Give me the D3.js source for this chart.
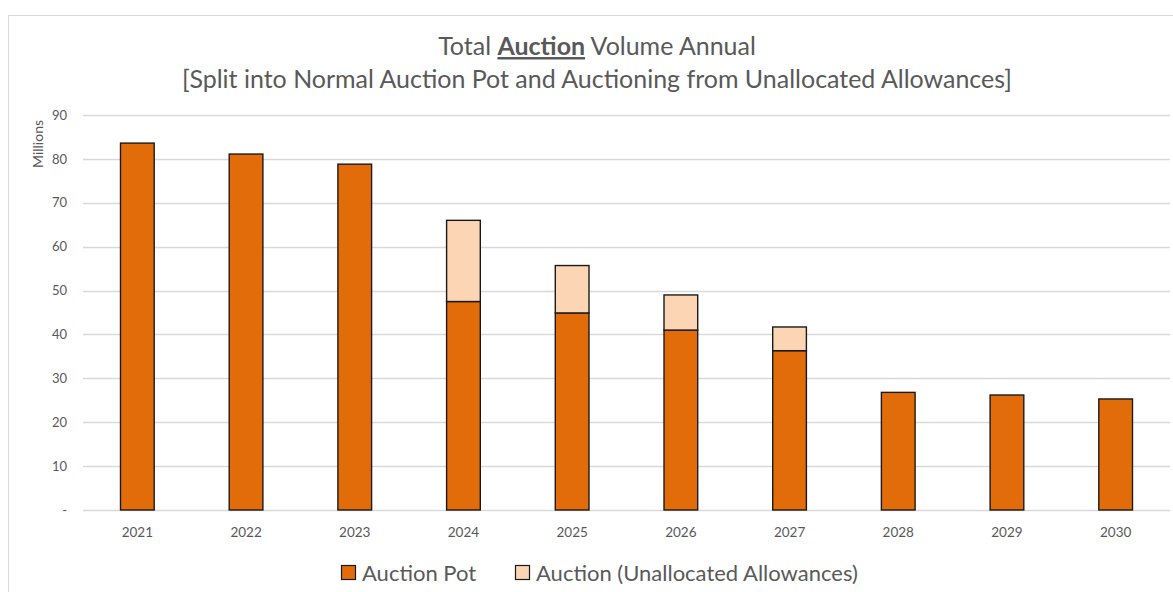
<!DOCTYPE html>
<html>
<head>
<meta charset="utf-8">
<script src="https://cdn.jsdelivr.net/npm/d3@7"></script>
<style>
  html, body { margin: 0; padding: 0; background: #fff; }
  svg { display: block; font-family: Lato, "Open Sans", sans-serif; }
</style>
</head>
<body>
<svg id="chart"></svg>
<script>
// Data (millions)
const years = ["2021", "2022", "2023", "2024", "2025", "2026", "2027", "2028", "2029", "2030"];
const auctionPot = [83.6, 81.1, 78.8, 47.5, 44.9, 41.0, 36.3, 26.8, 26.2, 25.3];
const unallocated = [0, 0, 0, 18.5, 10.8, 8.0, 5.4, 0, 0, 0];
const yTicks = [0, 10, 20, 30, 40, 50, 60, 70, 80, 90];
const seriesNames = ["Auction Pot", "Auction (Unallocated Allowances)"];
const seriesColors = ["#e36c0a", "#fcd5b5"];

const W = 1173, H = 592;
const margin = { top: 115, right: 3, bottom: 82, left: 83 };
const width = W - margin.left - margin.right,
  height = H - margin.top - margin.bottom;

const svg = d3.select("#chart").attr("width", W).attr("height", H);

// chart frame
svg.append("rect")
  .attr("x", 8.5).attr("y", 15.5)
  .attr("width", W + 20).attr("height", H + 20)
  .attr("fill", "none")
  .attr("stroke", "#d9d9d9")
  .attr("stroke-width", 1);

const g = svg.append("g")
  .attr("transform", `translate(${margin.left}, ${margin.top})`);

const x = d3.scaleBand().domain(years).range([0, width]).paddingInner(0.69).paddingOuter(0.345);
const y = d3.scaleLinear().domain([0, 90]).range([height, 0]);

// gridlines
g.selectAll("line.grid")
  .data(yTicks)
  .enter()
  .append("line")
  .attr("class", "grid")
  .attr("x1", 0).attr("x2", width)
  .attr("y1", d => Math.round(y(d)) + 0.5)
  .attr("y2", d => Math.round(y(d)) + 0.5)
  .attr("stroke", "#d9d9d9")
  .attr("stroke-width", 1.3);

// y axis labels
const yAxis = d3.axisLeft(y).tickValues(yTicks).tickSize(0).tickPadding(16)
  .tickFormat(d => d === 0 ? "-" : d);
g.append("g").call(yAxis)
  .call(s => s.select(".domain").remove())
  .selectAll("text")
  .attr("fill", "#595959")
  .style("font-size", "13px")
  .style("font-family", "Lato, sans-serif");

// x axis labels
const xAxis = d3.axisBottom(x).tickSize(0).tickPadding(17);
g.append("g").attr("transform", `translate(0, ${height})`).call(xAxis)
  .call(s => s.select(".domain").remove())
  .selectAll("text")
  .attr("fill", "#595959")
  .style("font-size", "13.5px")
  .style("font-family", "Lato, sans-serif");

// stacked bars
const rows = years.map((yr, i) => ({ year: yr, pot: auctionPot[i], unalloc: unallocated[i] }));
const stack = d3.stack().keys(["pot", "unalloc"])(rows);

g.selectAll("g.series")
  .data(stack)
  .enter()
  .append("g")
  .attr("class", "series")
  .attr("fill", (d, i) => seriesColors[i])
  .selectAll("rect")
  .data(d => d.filter(p => p[1] - p[0] > 0))
  .enter()
  .append("rect")
  .attr("x", d => x(d.data.year))
  .attr("y", d => y(d[1]))
  .attr("width", x.bandwidth())
  .attr("height", d => y(d[0]) - y(d[1]))
  .attr("stroke", "#1a1a1a")
  .attr("stroke-width", 1.4);

// y axis title
svg.append("text")
  .attr("transform", "translate(43, 144) rotate(-90)")
  .attr("text-anchor", "middle")
  .attr("fill", "#595959")
  .style("font-size", "14px")
  .text("Millions");

// title
const title = svg.append("text")
  .attr("text-anchor", "middle")
  .attr("fill", "#595959")
  .style("font-size", "24px");
const t1 = title.append("tspan").attr("x", 597).attr("y", 55);
t1.append("tspan").text("Total ");
t1.append("tspan").text("Auction").style("font-weight", "bold").style("text-decoration", "underline");
t1.append("tspan").text(" Volume Annual");
const t2 = title.append("tspan").attr("x", 597).attr("y", 88)
  .text("[Split into Normal Auction Pot and Auctioning from Unallocated Allowances]");

// fit title to the width seen in the picture
const w2 = t2.node().getComputedTextLength();
title.style("font-size", (24 * 830 / w2).toFixed(2) + "px");

// legend
const legend = svg.append("g").attr("transform", "translate(0, 573)");
const legendX = [341, 515];
seriesNames.forEach((name, i) => {
  const item = legend.append("g").attr("transform", `translate(${legendX[i]}, 0)`);
  item.append("rect")
    .attr("x", 0.5).attr("y", -7.5)
    .attr("width", 14).attr("height", 14)
    .attr("fill", seriesColors[i])
    .attr("stroke", "#1a1a1a")
    .attr("stroke-width", 1.2);
  item.append("text")
    .attr("x", 21).attr("y", 0)
    .attr("dy", "0.35em")
    .attr("fill", "#595959")
    .style("font-size", "22px")
    .text(name);
});
</script>
</body>
</html>
